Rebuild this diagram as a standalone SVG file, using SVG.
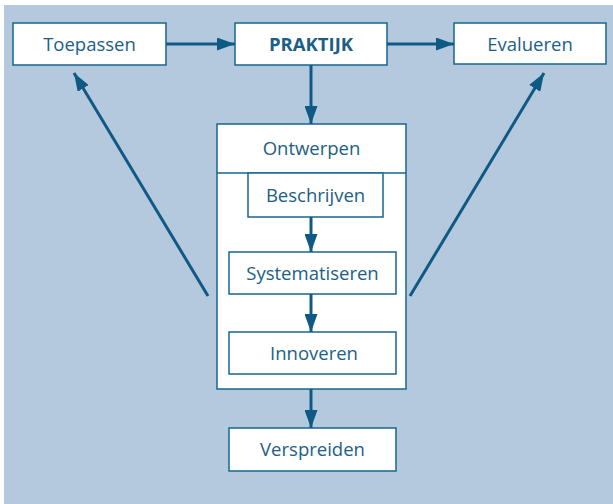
<svg xmlns="http://www.w3.org/2000/svg" width="613" height="504" viewBox="0 0 613 504">
<style>
.box{fill:#ffffff;stroke:#17658f;stroke-width:1.5}
.t{font-family:"Open Sans","Noto Sans",sans-serif;font-size:18.5px;fill:#1b5e86;text-anchor:middle}
.b{font-weight:bold}
.c{stroke:#0f5a84;stroke-width:3;fill:none}
</style>
<defs>
<marker id="ah" markerUnits="userSpaceOnUse" markerWidth="18" markerHeight="13" viewBox="0 0 18 13" refX="18" refY="6.5" orient="auto">
<path d="M0,0 L18,6.5 L0,13 Z" fill="#0f5a84"/>
</marker>
</defs>
<rect x="0" y="0" width="613" height="504" fill="#ffffff"/>
<rect x="4" y="5" width="609" height="499" fill="#b4c9de"/>
<g id="toepassen"><rect class="box" x="13" y="23" width="153" height="42"/><text class="t" x="89.5" y="50.5">Toepassen</text></g>
<g id="praktijk"><rect class="box" x="235" y="23" width="152" height="42"/><text class="t b" x="311" y="50.5">PRAKTIJK</text></g>
<g id="evalueren"><rect class="box" x="454" y="23" width="152" height="41"/><text class="t" x="530" y="50.5">Evalueren</text></g>
<g id="ontwerpen"><rect class="box" x="217" y="124" width="189" height="265"/><line x1="217" y1="173" x2="406" y2="173" stroke="#17658f" stroke-width="1.5"/><text class="t" x="311.5" y="155">Ontwerpen</text></g>
<g id="beschrijven"><rect class="box" x="248" y="173" width="135" height="44"/><text class="t" x="315.5" y="201.5">Beschrijven</text></g>
<g id="systematiseren"><rect class="box" x="229" y="252" width="167" height="42"/><text class="t" x="312.5" y="279.5">Systematiseren</text></g>
<g id="innoveren"><rect class="box" x="229" y="332" width="167" height="42"/><text class="t" x="314" y="359.5">Innoveren</text></g>
<g id="verspreiden"><rect class="box" x="229" y="428" width="167" height="43"/><text class="t" x="312.5" y="456">Verspreiden</text></g>
<g id="connectors">
<line class="c" x1="166" y1="44" x2="235" y2="44" marker-end="url(#ah)"/>
<line class="c" x1="387" y1="44" x2="454" y2="44" marker-end="url(#ah)"/>
<line class="c" x1="311" y1="65" x2="311" y2="124" marker-end="url(#ah)"/>
<line class="c" x1="311" y1="217" x2="311" y2="252" marker-end="url(#ah)"/>
<line class="c" x1="311" y1="294" x2="311" y2="332" marker-end="url(#ah)"/>
<line class="c" x1="311" y1="389" x2="311" y2="428" marker-end="url(#ah)"/>
<line class="c" x1="208" y1="296" x2="74" y2="73" marker-end="url(#ah)"/>
<line class="c" x1="410" y1="296" x2="544" y2="73" marker-end="url(#ah)"/>
</g>
</svg>
